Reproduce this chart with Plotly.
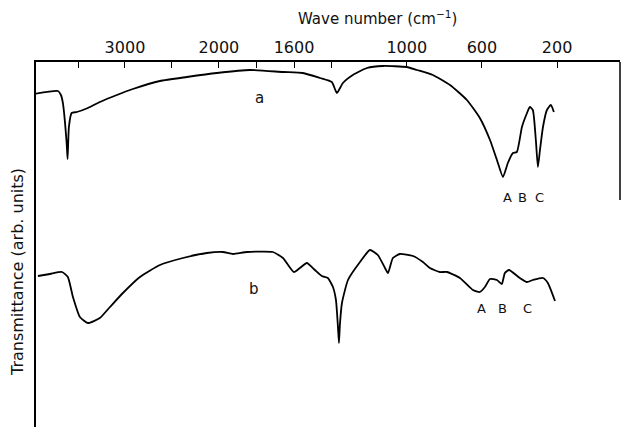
import plotly.graph_objects as go

# Wave numbers (cm^-1) and transmittance (arb. units)
wn_a = [3970, 3714, 3682, 3661, 3621, 3611, 3597, 3568, 3512, 3395, 3267, 3086, 2916, 2628,
        2341, 2021, 1835, 1659, 1553, 1462, 1399, 1372, 1340, 1287, 1212, 1127, 1000, 946,
        861, 770, 680, 611, 557, 520, 488, 462, 435, 414, 387, 360, 345, 329, 313, 302, 291,
        275, 254, 233, 217]
tr_a = [333, 336, 332, 324, 284, 268, 300, 314, 315, 319, 325, 332, 338, 346,
        350, 354, 357, 355, 354, 349, 345, 334, 344, 352, 359, 361, 360, 357,
        352, 342, 327, 309, 287, 267, 250, 264, 274, 275, 300, 314, 320, 317, 287, 260, 277,
        300, 317, 322, 315]

wn_b = [3927, 3799, 3671, 3608, 3554, 3480, 3395, 3267, 3160, 3022, 2841, 2628, 2383, 2128,
        1979, 1925, 1851, 1713, 1659, 1601, 1569, 1532, 1489, 1452, 1420, 1393, 1377, 1367,
        1361, 1356, 1345, 1313, 1249, 1196, 1154, 1116, 1100, 1074, 1037, 967, 914, 877, 824,
        786, 717, 648, 611, 584, 557, 520, 494, 478, 456, 398, 360, 329, 275, 249, 211]
tr_b = [151, 153, 155, 150, 130, 110, 104, 109, 120, 134, 150, 162, 169, 174,
        175, 173, 175, 175, 169, 155, 159, 164, 157, 151, 149, 140, 127, 102,
        84, 102, 124, 147, 165, 177, 172, 159, 154, 169, 173, 171, 165, 159, 155,
        155, 149, 137, 135, 140, 148, 147, 143, 154, 157, 149, 145, 147, 149, 144, 126]

major_ticks = [3000, 2000, 1600, 1000, 600, 200]
minor_ticks = [3500, 2500, 1800, 1400]

labels_a = ["A", "B", "C"]
label_a_wn = [466, 386, 296]
labels_b = ["A", "B", "C"]
label_b_wn = [600, 488, 355]


def to_axis(w):
    # chart abscissa: scale halves above 2000 cm^-1
    return w if w <= 2000 else 2000 + (w - 2000) / 2.0


FONT = "DejaVu Sans"
fig = go.Figure()
for wn, tr in ((wn_a, tr_a), (wn_b, tr_b)):
    fig.add_trace(go.Scatter(
        x=[to_axis(w) for w in wn], y=tr, mode="lines",
        line=dict(color="black", width=1.8, shape="spline", smoothing=0.5),
        showlegend=False, hoverinfo="skip"))

fig.update_layout(
    width=622, height=427,
    margin=dict(l=36, r=2, t=62, b=0),
    paper_bgcolor="white", plot_bgcolor="white",
    font=dict(family=FONT, color="#111"),
    xaxis=dict(range=[2973.6, -135], side="top", showline=True, linecolor="black",
               linewidth=2, ticks="inside", ticklen=6, tickwidth=1.3, tickcolor="black",
               tickmode="array",
               tickvals=[to_axis(w) for w in major_ticks],
               ticktext=[str(w) for w in major_ticks],
               tickfont=dict(size=16, family=FONT),
               minor=dict(tickmode="array", tickvals=[to_axis(w) for w in minor_ticks],
                          ticks="inside", ticklen=6, tickwidth=1.3, tickcolor="black",
                          showgrid=False),
               showgrid=False, zeroline=False, ticklabelstandoff=1),
    yaxis=dict(range=[0, 365], showline=True, linecolor="black", linewidth=1.5,
               showticklabels=False, ticks="", showgrid=False, zeroline=False),
)

# partial right frame line
fig.add_shape(type="line", xref="paper", yref="paper", x0=1, x1=1, y0=1, y1=0.622,
              line=dict(color="black", width=1.5))

fig.add_annotation(text="Wave number (cm<sup>−1</sup>)", xref="paper", yref="paper",
                   x=0.5856, y=1.1205, showarrow=False, font=dict(size=15, family=FONT),
                   xanchor="center", yanchor="middle")
fig.add_annotation(text="Transmittance (arb. units)", xref="paper", yref="paper",
                   x=-0.0308, y=0.4247, textangle=-90, showarrow=False,
                   font=dict(size=16, family=FONT), xanchor="center", yanchor="middle")

fig.add_annotation(text="a", x=to_axis(1786), y=329, showarrow=False, font=dict(size=15, family=FONT))
fig.add_annotation(text="b", x=to_axis(1813), y=138, showarrow=False, font=dict(size=15, family=FONT))
for t, w in zip(labels_a, label_a_wn):
    fig.add_annotation(text=t, x=to_axis(w), y=230, showarrow=False, font=dict(size=13, family=FONT))
for t, w in zip(labels_b, label_b_wn):
    fig.add_annotation(text=t, x=to_axis(w), y=119, showarrow=False, font=dict(size=13, family=FONT))

fig.write_html("out.html")
